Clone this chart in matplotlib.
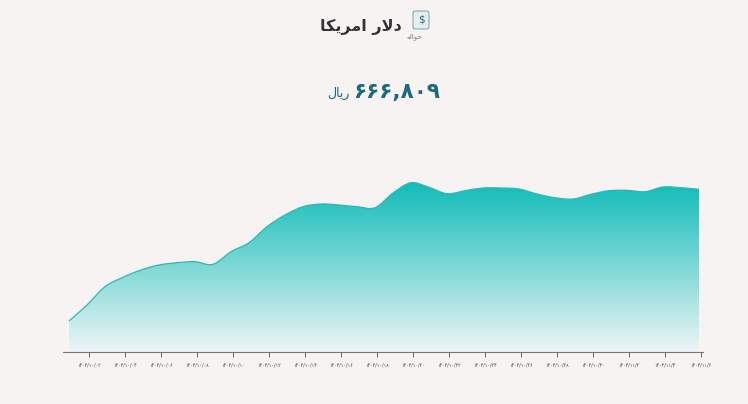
import numpy as np
import matplotlib
matplotlib.use("Agg")
import matplotlib.pyplot as plt
from matplotlib.path import Path
from matplotlib.patches import PathPatch, FancyBboxPatch
from matplotlib.colors import LinearSegmentedColormap

title_text = "دلار امریکا"
sub_text = "حواله"
unit_text = "ریال"
price_text = "۶۶۶,۸۰۹"
icon_text = "$"

prices = [620714, 626314, 632719, 636009, 638564, 640314, 641119, 641469, 640559,
          644969, 648119, 653719, 657814, 660719, 661664, 661314, 660719, 660369,
          665514, 669119, 667509, 665269, 666319, 667264, 667264, 666914, 665164,
          663869, 663414, 665059, 666319, 666459, 665969, 667614, 667369, 666809]
tick_labels = ["۱۴۰۳/۱۰/۰۲", "۱۴۰۳/۱۰/۰۴", "۱۴۰۳/۱۰/۰۶", "۱۴۰۳/۱۰/۰۸", "۱۴۰۳/۱۰/۱۰",
               "۱۴۰۳/۱۰/۱۲", "۱۴۰۳/۱۰/۱۴", "۱۴۰۳/۱۰/۱۶", "۱۴۰۳/۱۰/۱۸", "۱۴۰۳/۱۰/۲۰",
               "۱۴۰۳/۱۰/۲۲", "۱۴۰۳/۱۰/۲۴", "۱۴۰۳/۱۰/۲۶", "۱۴۰۳/۱۰/۲۸", "۱۴۰۳/۱۰/۳۰",
               "۱۴۰۳/۱۱/۲", "۱۴۰۳/۱۱/۴", "۱۴۰۳/۱۱/۶"]

# Minimal Arabic shaping: (isolated, final, initial, medial)
FORMS = {
    "ا": ("\uFE8D", "\uFE8E", None, None),
    "د": ("\uFEA9", "\uFEAA", None, None),
    "ر": ("\uFEAD", "\uFEAE", None, None),
    "و": ("\uFEED", "\uFEEE", None, None),
    "ل": ("\uFEDD", "\uFEDE", "\uFEDF", "\uFEE0"),
    "م": ("\uFEE1", "\uFEE2", "\uFEE3", "\uFEE4"),
    "ح": ("\uFEA1", "\uFEA2", "\uFEA3", "\uFEA4"),
    "ه": ("\uFEE9", "\uFEEA", "\uFEEB", "\uFEEC"),
    "ی": ("\uFBFC", "\uFBFD", "\uFEF3", "\uFEF4"),
    "ک": ("\uFB8E", "\uFB8F", "\uFB90", "\uFB91"),
}

def shape(s):
    out = []
    chars = list(s)
    i = 0
    while i < len(chars):
        c = chars[i]
        if c not in FORMS:
            out.append(c)
            i += 1
            continue
        prev = chars[i - 1] if i > 0 else None
        joins_prev = prev in FORMS and FORMS[prev][2] is not None
        if c == "ل" and i + 1 < len(chars) and chars[i + 1] == "ا":
            out.append("\uFEFC" if joins_prev else "\uFEFB")
            i += 2
            continue
        nxt = chars[i + 1] if i + 1 < len(chars) else None
        joins_next = nxt in FORMS and FORMS[c][2] is not None
        iso, fin, ini, med = FORMS[c]
        if joins_prev and joins_next:
            out.append(med)
        elif joins_prev:
            out.append(fin)
        elif joins_next:
            out.append(ini)
        else:
            out.append(iso)
        i += 1
    return "".join(reversed(out))

W, H = 748, 404
BG = "#f8f3f3"
fig = plt.figure(figsize=(W / 100, H / 100), dpi=100, facecolor=BG)
ax = fig.add_axes([63 / W, (H - 352) / H, 640 / W, 182 / H], facecolor="none")

x = np.arange(len(prices), dtype=float)
y = np.array(prices, dtype=float)
ax.set_xlim(-1 / 3, 634 / 18)
ax.set_ylim(609864, 673564)

# Smooth curve through the data (Catmull-Rom as Bezier segments)
pts = np.column_stack([x, y])
verts = [tuple(pts[0])]
codes = [Path.MOVETO]
for i in range(len(pts) - 1):
    p0 = pts[max(i - 1, 0)]
    p1, p2 = pts[i], pts[i + 1]
    p3 = pts[min(i + 2, len(pts) - 1)]
    verts += [tuple(p1 + (p2 - p0) / 6), tuple(p2 - (p3 - p1) / 6), tuple(p2)]
    codes += [Path.CURVE4] * 3
line_path = Path(verts, codes)
ymin = ax.get_ylim()[0]
area_path = Path(verts + [(x[-1], ymin), (x[0], ymin), (x[0], y[0])],
                 codes + [Path.LINETO, Path.LINETO, Path.CLOSEPOLY])

cmap = LinearSegmentedColormap.from_list("fade", ["#edf5f5", "#10bcb8"])
grad = np.linspace(0, 1, 256).reshape(-1, 1)
top = max(prices)
im = ax.imshow(grad, origin="lower", aspect="auto", cmap=cmap,
               extent=[x[0], x[-1], ymin, top], zorder=1, interpolation="bilinear")
clip = PathPatch(area_path, transform=ax.transData, facecolor="none", edgecolor="none")
ax.add_patch(clip)
im.set_clip_path(clip)
ax.add_patch(PathPatch(line_path, facecolor="none", edgecolor="#2db8b3", lw=0.9, zorder=2))
ax.set_xlim(-1 / 3, 634 / 18)
ax.set_ylim(609864, 673564)

for s in ["top", "left", "right"]:
    ax.spines[s].set_visible(False)
ax.spines["bottom"].set_color("#77777a")
ax.spines["bottom"].set_linewidth(0.8)
ax.set_yticks([])
ax.set_xticks(np.arange(len(tick_labels)) * 2 + 1 + 1 / 9)
ax.set_xticklabels(tick_labels, fontsize=3.4, color="#444444", family="DejaVu Sans")
ax.tick_params(axis="x", length=3.6, width=0.7, color="#66666a", pad=4.2)

# Header
fig.text(402 / W, 1 - 27 / H, shape(title_text), ha="right", va="center",
         fontsize=11.5, color="#333333", family="DejaVu Sans", fontweight="bold")
fig.text(422 / W, 1 - 36.5 / H, shape(sub_text), ha="right", va="center",
         fontsize=5, color="#777777", family="DejaVu Sans")
fig.text(440 / W, 1 - 92 / H, price_text, ha="right", va="center",
         fontsize=15.5, color="#1b6a7f", family="DejaVu Sans", fontweight="bold")
fig.text(350 / W, 1 - 93 / H, shape(unit_text), ha="right", va="center",
         fontsize=9, color="#1b6a7f", family="DejaVu Sans")

icon = FancyBboxPatch((413 / W, 1 - 29 / H), 16 / W, 18 / H,
                      boxstyle="round,pad=0,rounding_size=0.003",
                      transform=fig.transFigure, facecolor="#e3eeef",
                      edgecolor="#8fb3bc", lw=0.9, mutation_aspect=W / H)
fig.patches.append(icon)
fig.text(421 / W, 1 - 19.5 / H, icon_text, ha="center", va="center",
         fontsize=7.5, color="#2a6a7d", family="DejaVu Sans")

fig.savefig("out.png", dpi=100, facecolor=BG)
